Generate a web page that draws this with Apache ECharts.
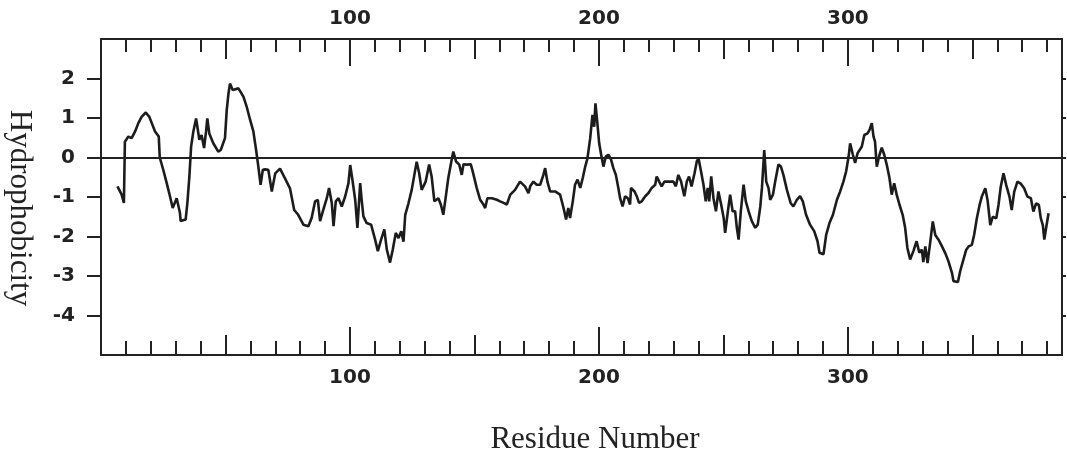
<!DOCTYPE html>
<html>
<head>
<meta charset="utf-8">
<script src="https://cdn.jsdelivr.net/npm/echarts@6/dist/echarts.min.js"></script>
<style>
html,body{margin:0;padding:0;background:#fff;}
#chart{width:1067px;height:456px;}
</style>
</head>
<body>
<div id="chart"></div>
<script>
// Residue positions (x)
const residues = [
6.6,8.3,9.2,9.6,11,12.3,13.7,15,16.3,18,19.4,20.4,21.7,23.2,23.6,25,26.4,27.7,28.8,30.4,
31.7,32,34,34.7,35.5,36.2,37.1,38.2,38.8,39.5,40.4,41.4,42.2,42.7,43.5,45.1,47.1,48.1,49.8,50.5,
51.2,51.8,52.9,55.2,57.2,58.5,59.9,61.2,62.3,63.2,64.1,65,65.9,67.2,68.6,70,71.9,73.9,75.9,77.6,
79.2,81.3,83.3,84.6,86,87.1,88,89.3,90.7,91.6,92.7,93.4,94.3,95.4,96.7,98.1,99.4,100.1,101,102.1,
103,104.1,104.7,105.4,106.7,108.5,110.1,111.2,112.5,113.8,114.8,116.1,117.2,118.4,119.5,120.6,121.5,122.2,123.5,124.8,
126.2,126.8,127.8,128.8,130.4,131.8,132.8,133.9,135.5,136.5,137.5,138.6,139.5,140.5,141.5,142.6,143.9,144.9,145.6,146.9,
148.5,149.3,150.9,152.3,153.6,154.3,155.2,157,159,160.3,161.7,163,164.4,166.3,168.3,170.3,171.7,172.4,173.7,175,
176.4,177.7,178.4,179.3,180.4,182.4,184.4,185.8,186.8,187.7,188.4,189.5,190.4,191.4,192.5,193.5,194.5,195.4,196.5,197.4,
198.1,198.6,199.4,200.1,200.9,201.8,202.8,203.8,204.9,205.8,206.8,207.8,208.5,209.5,210.5,211.6,212.5,212.9,214.3,215.2,
216.1,217.2,218.6,219.9,221.2,222.6,223.2,224.2,225.2,226.3,227.9,229.9,230.9,231.9,233,234.3,235.3,236.2,237.2,238.4,
239.3,240,241,242,242.9,243.7,244.3,245.1,246,247,248,249.1,250.1,250.7,251.8,252.7,253.7,254.7,255.4,256.1,
257,258.1,259,260.1,261.4,262.8,263.8,264.8,265.5,266.4,267.2,268.1,268.8,269.9,270.8,272.1,273.1,274.1,275.5,277,
278.1,279.5,280.8,281.9,283.2,284.8,286.5,287.8,288.6,290.2,291.3,292.6,294,295.6,296.9,298.2,299.3,300.3,300.9,302,
302.9,303.9,305.6,306.6,307.9,308.7,309.6,310.3,310.9,311.6,312.7,313.6,314.6,315.6,316.7,317.6,318.6,319.6,320.7,322,
323,323.9,325,326.3,327.6,328.7,329.7,330.3,331.1,332,333.1,334.1,335.1,336.4,337.8,339.1,340.4,341.8,342.4,344.2,
345.1,346.2,347.5,348.5,349.8,350.7,351.8,352.9,353.8,355.2,356.1,357.2,358.2,359.6,360.5,361.4,362.5,363.6,364.9,365.8,
366.8,368.1,369.4,370.8,372.1,373.5,374.5,375.6,376.7,377.5,378.3,378.9,379.6,380.6
];
// Hydrophobicity values (y)
const hydrophobicity = [
-0.73,-0.94,-1.15,0.40,0.53,0.49,0.66,0.87,1.03,1.14,1.03,0.87,0.66,0.53,0.00,-0.31,-0.65,-0.98,-1.28,-1.03,
-1.40,-1.61,-1.57,-1.15,-0.48,0.28,0.66,0.99,0.74,0.45,0.57,0.24,0.66,0.99,0.61,0.36,0.15,0.19,0.49,1.20,
1.62,1.87,1.71,1.75,1.54,1.29,0.95,0.66,0.19,-0.23,-0.69,-0.31,-0.30,-0.31,-0.86,-0.40,-0.28,-0.53,-0.78,-1.33,
-1.45,-1.70,-1.74,-1.53,-1.11,-1.07,-1.61,-1.32,-1.03,-0.77,-1.15,-1.74,-1.11,-1.03,-1.24,-0.98,-0.65,-0.19,-0.57,-1.07,
-1.78,-0.65,-1.07,-1.49,-1.66,-1.70,-2.08,-2.37,-2.08,-1.82,-2.33,-2.66,-2.33,-1.91,-2.04,-1.87,-2.13,-1.45,-1.16,-0.82,
-0.32,-0.11,-0.40,-0.82,-0.61,-0.18,-0.48,-1.11,-1.03,-1.19,-1.45,-0.94,-0.52,-0.18,0.15,-0.10,-0.18,-0.44,-0.17,-0.18,
-0.17,-0.35,-0.77,-1.07,-1.19,-1.28,-1.03,-1.03,-1.07,-1.11,-1.15,-1.19,-0.94,-0.82,-0.61,-0.73,-0.90,-0.73,-0.61,-0.69,
-0.69,-0.44,-0.27,-0.61,-0.86,-0.86,-0.94,-1.28,-1.57,-1.28,-1.53,-1.11,-0.69,-0.56,-0.77,-0.52,-0.23,-0.02,0.49,1.08,
0.78,1.37,0.85,0.36,0.07,-0.23,0.03,0.07,-0.06,-0.27,-0.44,-0.77,-1.03,-1.24,-0.98,-1.03,-1.19,-0.77,-0.86,-0.98,
-1.15,-1.11,-0.98,-0.90,-0.77,-0.69,-0.48,-0.61,-0.73,-0.61,-0.61,-0.61,-0.73,-0.44,-0.61,-0.98,-0.61,-0.48,-0.73,-0.40,
-0.10,-0.02,-0.35,-0.69,-1.11,-0.77,-1.11,-0.48,-1.03,-1.36,-0.86,-1.19,-1.53,-1.91,-1.36,-0.94,-1.36,-1.36,-1.78,-2.08,
-1.36,-0.69,-1.11,-1.36,-1.61,-1.78,-1.70,-1.25,-0.75,0.19,-0.61,-0.77,-1.07,-0.94,-0.61,-0.18,-0.23,-0.44,-0.82,-1.15,
-1.24,-1.07,-0.98,-1.11,-1.45,-1.70,-1.87,-2.12,-2.41,-2.45,-1.95,-1.66,-1.45,-1.07,-0.86,-0.61,-0.35,0.03,0.36,0.07,
-0.14,0.11,0.28,0.57,0.61,0.70,0.87,0.53,0.40,-0.23,0.07,0.25,0.07,-0.18,-0.52,-0.94,-0.65,-0.94,-1.19,-1.45,
-1.78,-2.29,-2.58,-2.37,-2.12,-2.41,-2.33,-2.65,-2.25,-2.67,-2.13,-1.62,-1.96,-2.08,-2.25,-2.42,-2.63,-2.92,-3.13,-3.15,
-2.88,-2.63,-2.34,-2.25,-2.21,-1.96,-1.54,-1.20,-0.99,-0.78,-1.08,-1.71,-1.50,-1.54,-1.20,-0.74,-0.40,-0.70,-0.99,-1.33,
-0.87,-0.61,-0.66,-0.78,-0.99,-1.03,-1.37,-1.16,-1.20,-1.54,-1.71,-2.08,-1.79,-1.41
];
// Axis ticks and labels
const xLabelTicks = [100, 200, 300];
const xMinorTicks = [10,20,30,40,60,70,80,90,110,120,130,140,160,170,180,190,210,220,230,240,260,270,280,290,310,320,330,340,360,370,380];
const xMidTicks = [50, 150, 250, 350];
const xMajorTicks = [100, 200, 300];
const yTicks = [-4, -3, -2, -1, 0, 1, 2];
const xTitle = 'Residue Number';
const yTitle = 'Hydrophobicity';

const INK = '#222';
const labelFont = { fontFamily: 'DejaVu Sans', fontWeight: 'bold', fontSize: 20, color: INK };

function xAx(pos, ticks, len, withLine, withLabels, margin) {
  return {
    type: 'value', position: pos, min: 0, max: 386, gridIndex: 0,
    axisLine: { show: withLine, onZero: false, lineStyle: { color: INK, width: 2 } },
    axisTick: { show: true, inside: true, length: len, customValues: ticks, lineStyle: { color: INK, width: 2 } },
    axisLabel: withLabels ? Object.assign({ show: true, customValues: xLabelTicks, margin: margin }, labelFont) : { show: false },
    splitLine: { show: false }
  };
}

const chart = echarts.init(document.getElementById('chart'), null, { renderer: 'canvas' });
chart.setOption({
  animation: false,
  backgroundColor: '#fff',
  grid: { left: 101, right: 5, top: 39, bottom: 101, containLabel: false },
  xAxis: [
    xAx('bottom', xMinorTicks, 14, true, true, 13),
    xAx('bottom', xMidTicks, 20, false, false, 0),
    xAx('bottom', xMajorTicks, 28, false, false, 0),
    xAx('top', xMinorTicks, 13, true, true, 10),
    xAx('top', xMidTicks, 20, false, false, 0),
    xAx('top', xMajorTicks, 27, false, false, 0)
  ],
  yAxis: [
    {
      type: 'value', position: 'left', min: -5, max: 3, interval: 1,
      axisLine: { show: true, onZero: false, lineStyle: { color: INK, width: 2 } },
      axisTick: { show: true, inside: false, length: 14, customValues: yTicks, lineStyle: { color: INK, width: 2 } },
      axisLabel: Object.assign({ show: true, customValues: yTicks, margin: 26 }, labelFont),
      splitLine: { show: false }
    },
    {
      type: 'value', position: 'right', min: -5, max: 3, interval: 1,
      axisLine: { show: true, onZero: false, lineStyle: { color: INK, width: 2 } },
      axisTick: { show: true, inside: false, length: 4, customValues: yTicks, lineStyle: { color: INK, width: 2 } },
      axisLabel: { show: false },
      splitLine: { show: false }
    }
  ],
  series: [{
    type: 'line',
    xAxisIndex: 0, yAxisIndex: 0,
    data: residues.map((r, i) => [r, hydrophobicity[i]]),
    showSymbol: false, symbol: 'none',
    lineStyle: { color: '#1c1c1c', width: 2.6 },
    markLine: {
      silent: true, symbol: 'none', label: { show: false },
      lineStyle: { color: INK, width: 2, type: 'solid' },
      data: [{ yAxis: 0 }]
    }
  }],
  graphic: [
    { type: 'text', x: 595, y: 440,
      style: { text: xTitle, font: '31px "Liberation Serif"', fill: INK,
               align: 'center', verticalAlign: 'middle', textAlign: 'center', textVerticalAlign: 'middle' } },
    { type: 'text', x: 19, y: 208, rotation: -Math.PI / 2,
      style: { text: yTitle, font: '31px "Liberation Serif"', fill: INK,
               align: 'center', verticalAlign: 'middle', textAlign: 'center', textVerticalAlign: 'middle' } }
  ]
});
</script>
</body>
</html>
